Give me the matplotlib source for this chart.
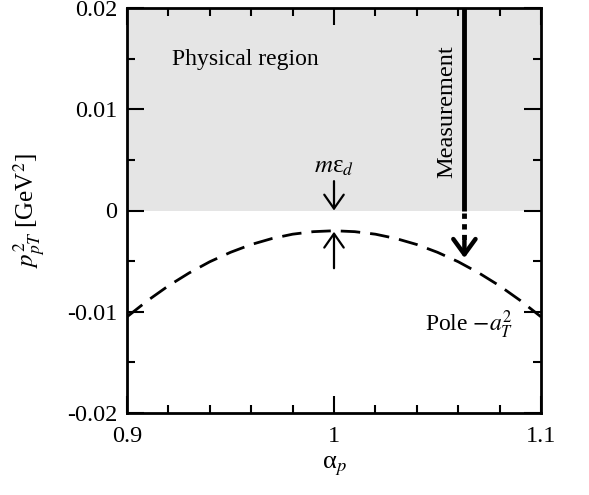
import numpy as np
import matplotlib
matplotlib.use('Agg')
import matplotlib.pyplot as plt
from matplotlib.ticker import MultipleLocator

plt.rcParams['font.family'] = ['Liberation Serif', 'DejaVu Serif']
plt.rcParams['mathtext.fontset'] = 'stix'

# pole curve
alpha = [0.90, 0.91, 0.92, 0.93, 0.94, 0.95, 0.96, 0.97, 0.98, 0.99, 1.00,
         1.01, 1.02, 1.03, 1.04, 1.05, 1.06, 1.07, 1.08, 1.09, 1.10]
pole = [-0.01050, -0.00889, -0.00744, -0.00617, -0.00506, -0.00413, -0.00336, -0.00277, -0.00234, -0.00209,
        -0.00200,
        -0.00209, -0.00234, -0.00277, -0.00336, -0.00413, -0.00506, -0.00617, -0.00744, -0.00889, -0.01050]

meas_x = 1.063
meas_tip = -0.0047
peak_x = 1.0
peak_y = -0.002

x_ticks = [0.9, 1.0, 1.1]
x_labels = ['0.9', '1', '1.1']
y_ticks = [-0.02, -0.01, 0.0, 0.01, 0.02]
y_labels = ['-0.02', '-0.01', '0', '0.01', '0.02']

fig = plt.figure(figsize=(5.89, 4.95), dpi=100)
ax = fig.add_axes([127 / 589, 82 / 495, 414 / 589, 405 / 495])

ax.axhspan(0, 0.02, color='#e5e5e5', zorder=0, lw=0)
ax.plot(alpha, pole, color='black', lw=2.0, ls=(0, (7, 3.6)))

# measurement line: solid above zero, dotted below
ax.plot([meas_x, meas_x], [0.02, 0.0], color='black', lw=3.5, solid_capstyle='butt')
ax.plot([meas_x, meas_x], [-0.0002, -0.0032], color='black', lw=3.5, ls=(0, (1.1, 1.1)))
ax.annotate('', xy=(meas_x, meas_tip), xytext=(meas_x, -0.0030),
            arrowprops=dict(arrowstyle='->, head_length=0.55, head_width=0.4', lw=3.2, color='black',
                            shrinkA=0, shrinkB=0, mutation_scale=20))
ax.text(meas_x - 0.0085, 0.0098, 'Measurement', rotation=90, ha='center', va='center', fontsize=17.5)

# m eps_d arrows
ax.annotate('', xy=(peak_x, 0.0), xytext=(peak_x, 0.0029),
            arrowprops=dict(arrowstyle='->, head_length=0.5, head_width=0.35', lw=1.6, color='black',
                            shrinkA=0, shrinkB=0, mutation_scale=20))
ax.annotate('', xy=(peak_x, -0.0021), xytext=(peak_x, -0.0057),
            arrowprops=dict(arrowstyle='->, head_length=0.5, head_width=0.35', lw=1.6, color='black',
                            shrinkA=0, shrinkB=0, mutation_scale=20))
ax.text(peak_x, 0.0043, r'$m$' + '\u03b5' + r'$_d$', ha='center', va='center', fontsize=18)

ax.text(0.9215, 0.0149, 'Physical region', ha='left', va='center', fontsize=17)
ax.text(1.044, -0.0113, r'Pole $-a_T^2$', ha='left', va='center', fontsize=17)

ax.set_xlim(0.9, 1.1)
ax.set_ylim(-0.02, 0.02)
ax.set_xticks(x_ticks)
ax.set_xticklabels(x_labels)
ax.set_yticks(y_ticks)
ax.set_yticklabels(y_labels)
ax.xaxis.set_minor_locator(MultipleLocator(0.02))
ax.yaxis.set_minor_locator(MultipleLocator(0.005))
ax.tick_params(which='both', direction='in', top=True, right=True, width=1.5, labelsize=17.5)
ax.tick_params(axis='x', pad=9)
ax.tick_params(axis='y', pad=7)
ax.tick_params(which='major', length=12)
ax.tick_params(which='minor', length=6)
for s in ax.spines.values():
    s.set_linewidth(2)

ax.set_xlabel('\u03b1' + r'$_p$', fontsize=19, labelpad=6)
ax.set_ylabel(r'$p_{pT}^2$ [GeV$^2$]', fontsize=18, labelpad=14)

fig.savefig('out.png', dpi=100)
